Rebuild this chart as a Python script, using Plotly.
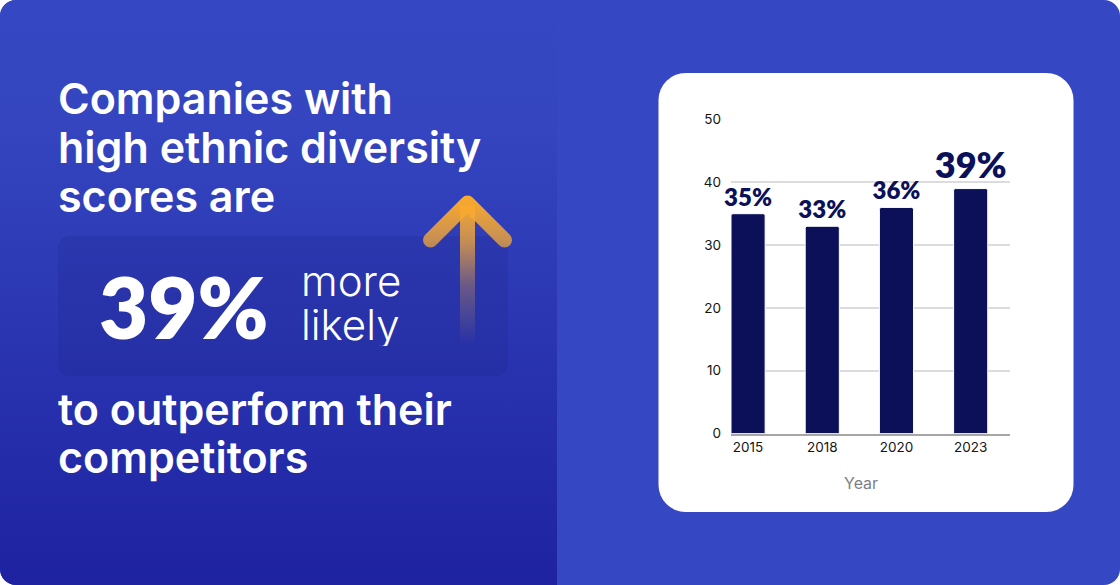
import base64
import plotly.graph_objects as go

W, H = 1120, 585

years = ['2015', '2018', '2020', '2023']
values = [35, 33, 36, 39]
value_labels = ['35%', '33%', '36%', '39%']
label_sizes = [24, 24, 24, 36]
y_ticks = [0, 10, 20, 30, 40, 50]

heading_top = ['Companies with', 'high ethnic diversity', 'scores are']
heading_bottom = ['to outperform their', 'competitors']
big_number = '39%'
side_words = ['more', 'likely']
x_title = 'Year'

NAVY = '#0c1059'

# background panels and the arrow have gradients, so they go in as one svg
background = f'''<svg xmlns="http://www.w3.org/2000/svg" width="{W}" height="{H}" viewBox="0 0 {W} {H}">
<defs>
<linearGradient id="panel" x1="0" y1="0" x2="0" y2="1">
<stop offset="0" stop-color="#3647c3"/>
<stop offset="0.22" stop-color="#3445bf"/>
<stop offset="1" stop-color="#1e22a0"/>
</linearGradient>
<linearGradient id="arrow" gradientUnits="userSpaceOnUse" x1="0" y1="197" x2="0" y2="345">
<stop offset="0" stop-color="#fbaa2a" stop-opacity="1"/>
<stop offset="0.3" stop-color="#f0a63a" stop-opacity="0.78"/>
<stop offset="0.6" stop-color="#f0a63a" stop-opacity="0.32"/>
<stop offset="1" stop-color="#f0a63a" stop-opacity="0"/>
</linearGradient>
<clipPath id="page"><rect width="{W}" height="{H}" rx="16"/></clipPath>
</defs>
<g clip-path="url(#page)">
<rect width="{W}" height="{H}" fill="#3647c3"/>
<rect width="557" height="{H}" fill="url(#panel)"/>
<rect x="58" y="236" width="450" height="140" rx="12" fill="#1a1f80" fill-opacity="0.18"/>
<rect x="658.5" y="73" width="415" height="439" rx="27" fill="#ffffff"/>
<path d="M430.5 240 L467.5 203 L504.5 240" fill="none" stroke="url(#arrow)" stroke-width="15" stroke-linecap="round" stroke-linejoin="round"/>
<rect x="460" y="205" width="15" height="140" fill="url(#arrow)"/>
</g>
</svg>'''
bg_source = 'data:image/svg+xml;base64,' + base64.b64encode(background.encode()).decode()

fig = go.Figure(go.Bar(
    x=years,
    y=values,
    width=0.46,
    text=value_labels,
    textposition='outside',
    constraintext='none',
    cliponaxis=False,
    textfont=dict(family='Lato', size=label_sizes, color=NAVY, weight=800),
    marker=dict(color=NAVY, cornerradius=2, line=dict(color='white', width=1)),
))

fig.update_layout(
    width=W,
    height=H,
    margin=dict(l=0, r=0, t=0, b=0),
    paper_bgcolor='white',
    plot_bgcolor='rgba(0,0,0,0)',
    showlegend=False,
    images=[dict(source=bg_source, xref='paper', yref='paper', x=0, y=1,
                 sizex=1, sizey=1, xanchor='left', yanchor='top',
                 sizing='stretch', layer='below')],
)
# automargin off, it was shrinking the whole paper area
fig.update_xaxes(
    type='category',
    automargin=False,
    domain=[731 / W, 1010 / W],
    range=[-0.23, 3.53],
    showgrid=False,
    showline=True,
    linecolor='#a6a6a6',
    linewidth=2,
    ticks='',
    ticklabelstandoff=0,
    tickfont=dict(family='Inter', size=13.5, color='#151515'),
)
fig.update_yaxes(
    automargin=False,
    domain=[(H - 433.5) / H, (H - 119.5) / H],
    range=[0, 50],
    tickvals=y_ticks,
    gridcolor='#dcdcdc',
    gridwidth=1.5,
    zeroline=False,
    ticks='',
    ticklabelstandoff=9,
    tickfont=dict(family='Inter', size=13.5, color='#151515'),
)


def add_text(text, x, y, size, weight, family='Inter', color='white', anchor='left', box_height=None):
    fig.add_annotation(text=text, x=x / W, y=1 - y / H, xref='paper', yref='paper',
                       xanchor=anchor, yanchor='middle', showarrow=False, height=box_height,
                       font=dict(family=family, size=size, color=color, weight=weight))


for line, y in zip(heading_top, [98, 147, 196]):
    add_text(line, 56, y, 43, 600)
for line, y in zip(heading_bottom, [409, 457]):
    add_text(line, 56, y, 43, 600)
add_text(big_number, 97, 306, 85, 800, family='Lato')
for word, y in zip(side_words, [280, 324]):
    add_text(word, 299, y, 42, 300, box_height=44)
add_text(x_title, 861, 483, 16, 400, color='#7e7e86', anchor='center')

# browser default margin would push the figure off the page
fig.write_html("out.html", config=dict(displayModeBar=False),
               post_script="document.body.style.margin='0';")
